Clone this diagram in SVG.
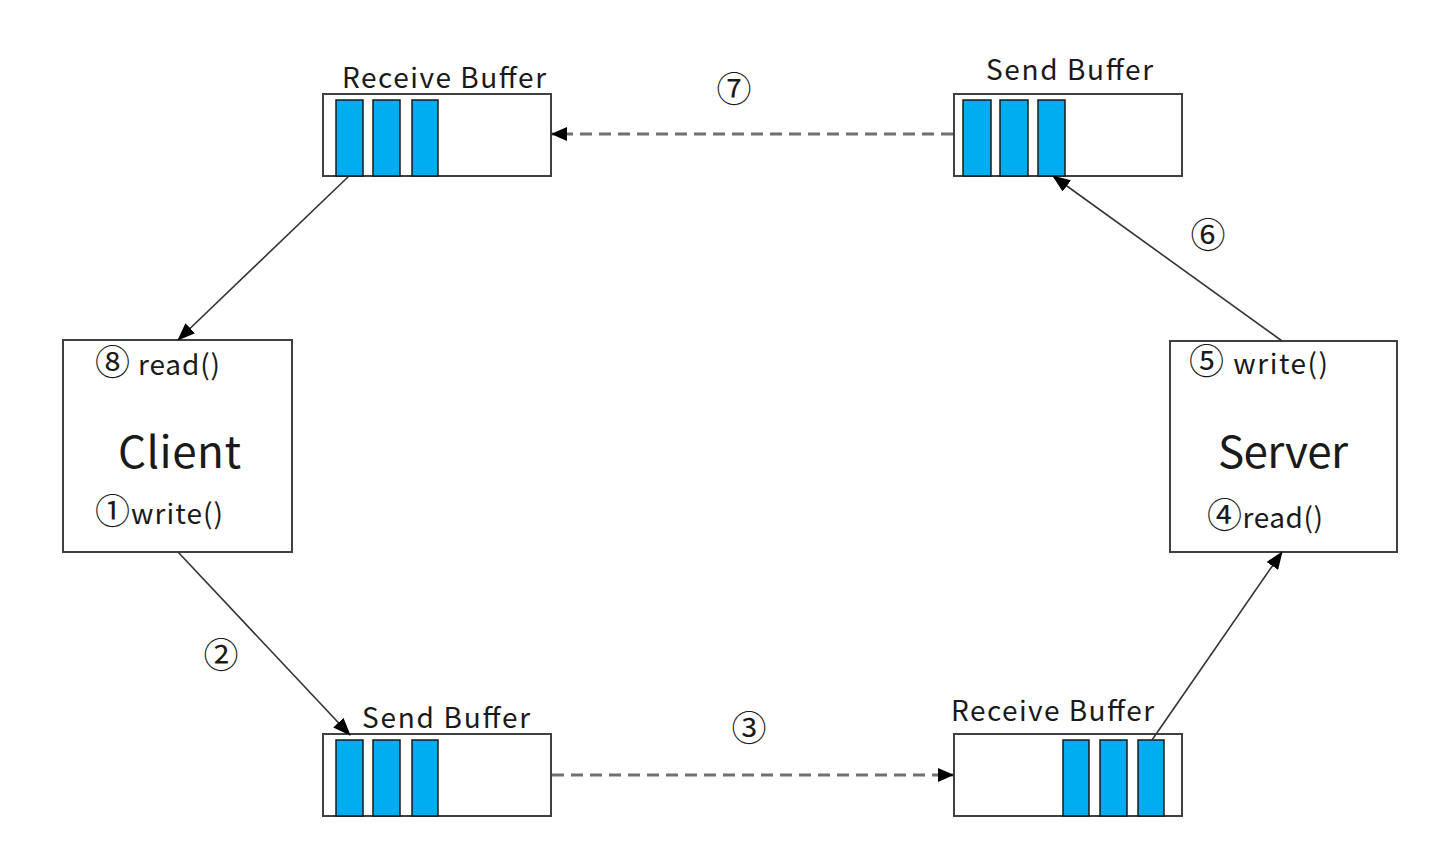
<svg xmlns="http://www.w3.org/2000/svg" width="1434" height="856" viewBox="0 0 1434 856">
<style>
.box{fill:#fff;stroke:#404040;stroke-width:2}
.bar{fill:#00AEEF;stroke:#1a1a1a;stroke-width:1.5}
.t{font-family:"Noto Sans CJK KR","Noto Sans",sans-serif;fill:#1a1a1a}
.lbl{font-size:28px}
.big{font-size:44px}
.num{font-size:35px}
.solid{stroke:#333;stroke-width:1.6;fill:none}
.dash{stroke:#707070;stroke-width:3;fill:none;stroke-dasharray:12 7}
</style>
<defs>
<marker id="ah" markerWidth="16" markerHeight="14" refX="15" refY="7" orient="auto" markerUnits="userSpaceOnUse" viewBox="0 0 16 14">
<path d="M0,0 L16,7 L0,14 z" fill="#000"/>
</marker>
<marker id="ahb" markerWidth="18" markerHeight="14" refX="17" refY="7" orient="auto" markerUnits="userSpaceOnUse" viewBox="0 0 18 14">
<path d="M0,0 L18,7 L0,14 z" fill="#000"/>
</marker>
</defs>
<rect width="1434" height="856" fill="#fff"/>

<g id="client">
<rect class="box" x="63" y="340" width="229" height="212"/>
<text class="t lbl" x="95" y="375" textLength="125"><tspan class="num">⑧</tspan> read()</text>
<text class="t big" x="118" y="468" textLength="123">Client</text>
<text class="t lbl" x="95" y="524" textLength="128"><tspan class="num">①</tspan>write()</text>
</g>

<g id="server">
<rect class="box" x="1170" y="341" width="227" height="211"/>
<text class="t lbl" x="1189" y="374" textLength="139"><tspan class="num">⑤</tspan> write()</text>
<text class="t big" x="1218" y="468" textLength="130">Server</text>
<text class="t lbl" x="1207" y="528" textLength="116"><tspan class="num">④</tspan>read()</text>
</g>

<g id="client-receive-buffer">
<text class="t lbl" x="342" y="88" textLength="204">Receive Buffer</text>
<rect class="box" x="323" y="94" width="228" height="82"/>
<rect class="bar" x="336" y="100" width="27" height="76"/>
<rect class="bar" x="373" y="100" width="27" height="76"/>
<rect class="bar" x="412" y="100" width="26" height="76"/>
</g>

<g id="server-send-buffer">
<text class="t lbl" x="986" y="80" textLength="167">Send Buffer</text>
<rect class="box" x="954" y="94" width="228" height="82"/>
<rect class="bar" x="963" y="100" width="28" height="76"/>
<rect class="bar" x="1000" y="100" width="28" height="76"/>
<rect class="bar" x="1038" y="100" width="27" height="76"/>
</g>

<g id="client-send-buffer">
<text class="t lbl" x="362" y="728" textLength="168">Send Buffer</text>
<rect class="box" x="323" y="734" width="228" height="82"/>
<rect class="bar" x="336" y="740" width="27" height="76"/>
<rect class="bar" x="373" y="740" width="27" height="76"/>
<rect class="bar" x="412" y="740" width="26" height="76"/>
</g>

<g id="server-receive-buffer">
<text class="t lbl" x="951" y="721" textLength="203">Receive Buffer</text>
<rect class="box" x="954" y="734" width="228" height="82"/>
<rect class="bar" x="1063" y="740" width="26" height="76"/>
<rect class="bar" x="1100" y="740" width="27" height="76"/>
<rect class="bar" x="1138" y="740" width="26" height="76"/>
</g>

<g id="connectors">
<line class="dash" x1="953" y1="134" x2="552" y2="134" marker-end="url(#ah)"/>
<line class="dash" x1="552" y1="775" x2="953" y2="775" marker-end="url(#ah)"/>
<line class="solid" x1="349" y1="176" x2="178" y2="340" marker-end="url(#ahb)"/>
<line class="solid" x1="178" y1="552" x2="350" y2="735" marker-end="url(#ahb)"/>
<line class="solid" x1="1282" y1="341" x2="1053" y2="176" marker-end="url(#ahb)"/>
<line class="solid" x1="1152" y1="740" x2="1282" y2="552" marker-end="url(#ahb)"/>
</g>

<g id="step-labels">
<text class="t num" x="734" y="102" text-anchor="middle">⑦</text>
<text class="t num" x="1208" y="248" text-anchor="middle">⑥</text>
<text class="t num" x="221" y="668" text-anchor="middle">②</text>
<text class="t num" x="749" y="741" text-anchor="middle">③</text>
</g>
</svg>
